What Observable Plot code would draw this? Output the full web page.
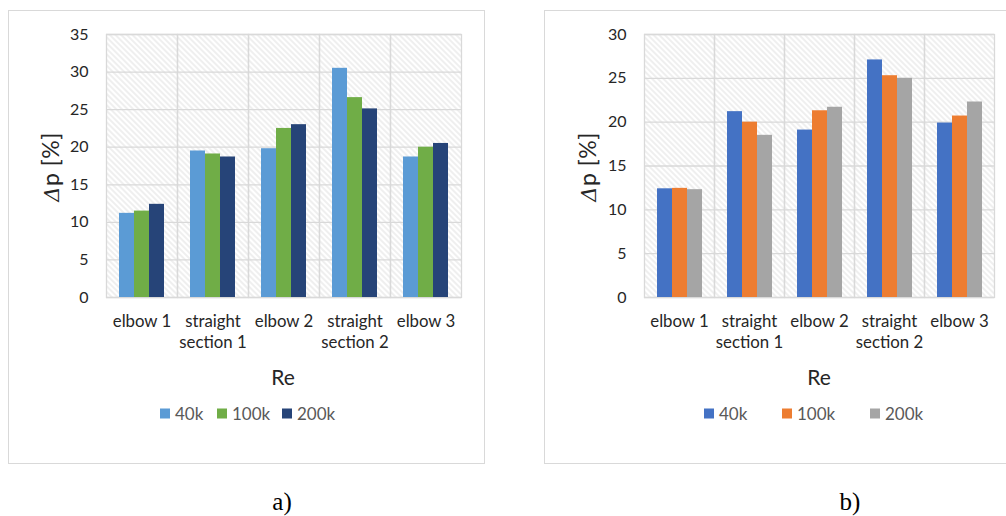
<!DOCTYPE html>
<html>
<head>
<meta charset="utf-8">
<script src="https://cdn.jsdelivr.net/npm/d3@7"></script>
<script src="https://cdn.jsdelivr.net/npm/@observablehq/plot@0.6"></script>
<style>
  html, body { margin: 0; padding: 0; background: #fff; }
  body { width: 1006px; height: 516px; position: relative; overflow: hidden; font-family: Lato, "Open Sans", sans-serif; }
  .box { position: absolute; border: 1.5px solid #d9d9d9; box-sizing: border-box; }
  .abs { position: absolute; white-space: nowrap; }
  .ylab { font-size: 23px; letter-spacing: 0.5px; color: #262626; transform: translate(-50%, -50%) rotate(-90deg); }
  .ylab i { font-family: "DejaVu Serif", serif; font-size: 21px; }
  .xlab { font-size: 21px; color: #262626; transform: translate(-50%, -50%); }
  .leg { font-size: 17px; color: #595959; transform: translateY(-50%); display: flex; align-items: center; }
  .leg span.sw { display: inline-block; width: 10px; height: 10px; margin-right: 5px; }
  .cap { font-family: "Liberation Serif", "DejaVu Serif", serif; font-size: 25px; color: #000; transform: translate(-50%, -50%); }
  svg { position: absolute; top: 0; overflow: visible; }
</style>
</head>
<body>
<div class="box" style="left:8px;top:10px;width:477px;height:454px;"></div>
<div class="box" style="left:544px;top:10px;width:500px;height:454px;"></div>
<div id="chartA"></div>
<div id="chartB"></div>
<script>
const categories = ["elbow 1", "straight section 1", "elbow 2", "straight section 2", "elbow 3"];
const tickLabels = ["elbow 1", "straight\nsection 1", "elbow 2", "straight\nsection 2", "elbow 3"];
const seriesNames = ["40k", "100k", "200k"];

// Chart a)
const a40k  = [11.2, 19.5, 19.8, 30.5, 18.7];
const a100k = [11.5, 19.1, 22.5, 26.6, 20.0];
const a200k = [12.4, 18.7, 23.0, 25.1, 20.5];
const aColors = ["#5B9BD5", "#70AD47", "#264478"];
const aTicks = [0, 5, 10, 15, 20, 25, 30, 35];

// Chart b)
const b40k  = [12.4, 21.2, 19.1, 27.1, 19.9];
const b100k = [12.45, 20.0, 21.3, 25.3, 20.7];
const b200k = [12.3, 18.5, 21.7, 25.0, 22.3];
const bColors = ["#4472C4", "#ED7D31", "#A5A5A5"];
const bTicks = [0, 5, 10, 15, 20, 25, 30];

function rows(seriesArrays) {
  const out = [];
  categories.forEach((c, i) => {
    seriesNames.forEach((s, j) => out.push({cat: c, series: s, value: seriesArrays[j][i]}));
  });
  return out;
}

function makeChart(data, colors, ticks, width, marginRight, patId) {
  const labelOf = Object.fromEntries(categories.map((c, i) => [c, tickLabels[i]]));
  const svg = Plot.plot({
    width, height: 360,
    marginLeft: 106, marginRight, marginTop: 34, marginBottom: 63,
    style: {fontFamily: "Lato, 'Open Sans', sans-serif", background: "transparent", overflow: "visible"},
    fx: {domain: categories, padding: 0, label: null},
    x: {domain: seriesNames, paddingInner: 0, paddingOuter: 0.766, axis: null},
    y: {domain: [0, ticks[ticks.length - 1]], ticks, label: null},
    color: {domain: seriesNames, range: colors},
    marks: [
      Plot.frame({fill: `url(#${patId})`, stroke: null}),
      Plot.gridY(ticks, {stroke: "#d9d9d9", strokeOpacity: 1, strokeWidth: 1.3}),
      Plot.frame({stroke: "#d9d9d9", strokeWidth: 1.3}),
      Plot.barY(data, {fx: "cat", x: "series", y: "value", fill: "series", inset: 0}),
      Plot.axisY(ticks, {tickSize: 0, tickPadding: 18, fontSize: 16, fill: "#262626", label: null, tickFormat: d => d}),
      Plot.axisFx({anchor: "bottom", tickSize: 0, tickPadding: 15, fontSize: 16.8, lineHeight: 1.25, fill: "#262626", label: null, tickFormat: d => labelOf[d]})
    ]
  });
  const ns = "http://www.w3.org/2000/svg";
  const defs = document.createElementNS(ns, "defs");
  const pat = document.createElementNS(ns, "pattern");
  pat.setAttribute("id", patId);
  pat.setAttribute("patternUnits", "userSpaceOnUse");
  pat.setAttribute("width", "4");
  pat.setAttribute("height", "4");
  pat.setAttribute("patternTransform", "rotate(-45)");
  const bg = document.createElementNS(ns, "rect");
  bg.setAttribute("width", "4"); bg.setAttribute("height", "4"); bg.setAttribute("fill", "#ffffff");
  const ln = document.createElementNS(ns, "line");
  ln.setAttribute("x1", "1"); ln.setAttribute("y1", "0"); ln.setAttribute("x2", "1"); ln.setAttribute("y2", "4");
  ln.setAttribute("stroke", "#e9e9e9"); ln.setAttribute("stroke-width", "1.4");
  pat.appendChild(bg); pat.appendChild(ln); defs.appendChild(pat);
  svg.insertBefore(defs, svg.firstChild);
  return svg;
}

const svgA = makeChart(rows([a40k, a100k, a200k]), aColors, aTicks, 484, 23, "hatchA");
svgA.style.left = "0px";
document.getElementById("chartA").appendChild(svgA);

const svgB = makeChart(rows([b40k, b100k, b200k]), bColors, bTicks, 470, 10, "hatchB");
svgB.style.left = "536px";
document.getElementById("chartB").appendChild(svgB);

function addText(cls, x, y, html) {
  const d = document.createElement("div");
  d.className = "abs " + cls;
  d.style.left = x + "px"; d.style.top = y + "px";
  d.innerHTML = html;
  document.body.appendChild(d);
}
function addLegend(x, y, name, color) {
  const d = document.createElement("div");
  d.className = "abs leg";
  d.style.left = x + "px"; d.style.top = y + "px";
  const sw = document.createElement("span");
  sw.className = "sw"; sw.style.background = color;
  d.appendChild(sw);
  d.appendChild(document.createTextNode(name));
  document.body.appendChild(d);
}

addText("ylab", 50, 167, "<i>Δ</i>p [%]");
addText("ylab", 587, 167, "<i>Δ</i>p [%]");
addText("xlab", 283, 376, "Re");
addText("xlab", 819, 376, "Re");
[160, 217, 282].forEach((x, i) => addLegend(x, 413, seriesNames[i], aColors[i]));
[704, 782, 870].forEach((x, i) => addLegend(x, 413, seriesNames[i], bColors[i]));
addText("cap", 282, 502, "a)");
addText("cap", 850, 502, "b)");
</script>
</body>
</html>
